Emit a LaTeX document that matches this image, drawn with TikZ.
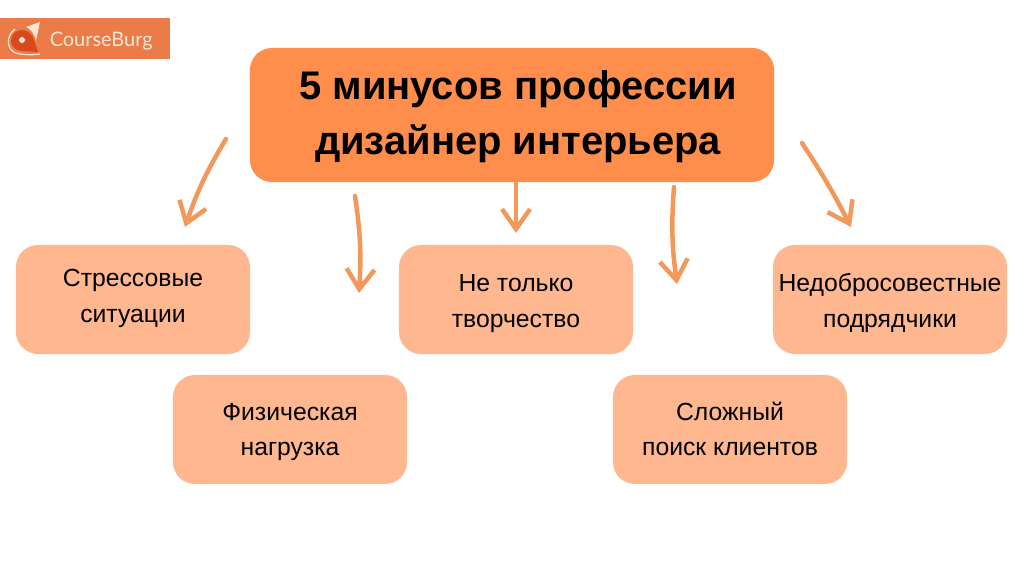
\documentclass[tikz,border=0pt]{standalone}
\usepackage{fontspec}
\setmainfont{Liberation Sans}
\newfontfamily\logofont{Lato}
\usetikzlibrary{arrows.meta}

\definecolor{titleorange}{HTML}{FF8E4D}
\definecolor{boxorange}{HTML}{FFB78F}
\definecolor{arroworange}{HTML}{F2985A}
\definecolor{logoorange}{HTML}{EB7B48}
\definecolor{logored}{HTML}{D8491E}
\definecolor{logocream}{HTML}{FBE6D2}

% two lines, with room above and below that moves the text in its box
\newcommand{\twolines}[4]{\rule{0pt}{#3}#1\\#2\strut\rule[-#4]{0pt}{0pt}}

\begin{document}
\begin{tikzpicture}[
            x = 0.025cm, y = -0.025cm, % one unit is one pixel of the picture
            > = {Straight Barb[length=5mm, width=7mm, line width=3.2pt]}, % arrow head style
            line width = 3.2pt,
            arrow/.style = {arroworange, line cap=round, line join=round},
            titlebox/.style = {
                fill = titleorange,
                rounded corners = 5.5mm,
                minimum width = 13.1cm,
                minimum height = 3.35cm,
                align = center,
                font = \fontsize{28.4}{39}\selectfont\bfseries
            },
            minusbox/.style = {
                fill = boxorange,
                rounded corners = 5.5mm,
                minimum width = 5.85cm,
                minimum height = 2.725cm,
                align = center,
                inner xsep = 0pt,
                font = \fontsize{17.6}{25}\selectfont
            }
        ]

        \useasboundingbox (0,0) rectangle (1024,576);

        % logo
        \node[fill=logoorange, minimum width=4.25cm, minimum height=1.025cm, inner sep=0pt] (logo) at (85,38.5) {};
        \node[text=logocream, font=\fontsize{14.2}{16}\logofont, anchor=west, inner sep=0pt] (brand) at (47.5,41) {CourseBurg};
        \draw[logocream, line width=0.9pt] (15,29) .. controls (5,36) and (6,53) .. (20,54) .. controls (28,55) and (34,55) .. (40,54);
        \fill[logored] (22,30) .. controls (28,30) and (33,35) .. (34,40) -- (38,52) -- (22,51) .. controls (16,51) and (11,46) .. (11,41) .. controls (11,35) and (16,30) .. (22,30);
        \fill[logocream] (40,22) -- (26,27) .. controls (31,29) and (35,35) .. (36,41) -- cycle;
        \fill[logocream] (22,40) circle (3);

        % boxes
        \node[titlebox] (title) at (512,115) {\rule{0pt}{23.2pt}\hspace*{3mm}5 минусов профессии\\\hspace*{3mm}дизайнер интерьера};
        \node[minusbox] (stress) at (133,299.5) {\twolines{Стрессовые}{ситуации}{17.5pt}{10.4pt}};
        \node[minusbox] (body) at (290,429.5) {\twolines{Физическая}{нагрузка}{19.6pt}{0pt}};
        \node[minusbox] (creative) at (516,299.5) {\twolines{Не только}{творчество}{21.8pt}{0pt}};
        \node[minusbox] (clients) at (730,429.5) {\twolines{Сложный}{поиск клиентов}{19.6pt}{0pt}};
        \node[minusbox] (builders) at (890,299.5) {\twolines{Недобросовестные}{подрядчики}{21.8pt}{0pt}};

        % arrow ends
        \coordinate (a1) at (226,139);
        \coordinate (b1) at (185,227);
        \coordinate (a2) at (355,196);
        \coordinate (b2) at (359,293);
        \coordinate (a3) at (516,183);
        \coordinate (b3) at (516,233);
        \coordinate (a4) at (674,187);
        \coordinate (b4) at (677,284);
        \coordinate (a5) at (802,143);
        \coordinate (b5) at (851,227);

        % arrows
        \path[->, arrow] (a1) edge [bend right=6] (b1);
        \path[->, arrow] (a2) edge [bend left=6] (b2);
        \path[->, arrow] (a3) edge (b3);
        \path[->, arrow] (a4) edge [bend right=6] (b4);
        \path[->, arrow] (a5) edge [bend left=3] (b5);

    \end{tikzpicture}
\end{document}
